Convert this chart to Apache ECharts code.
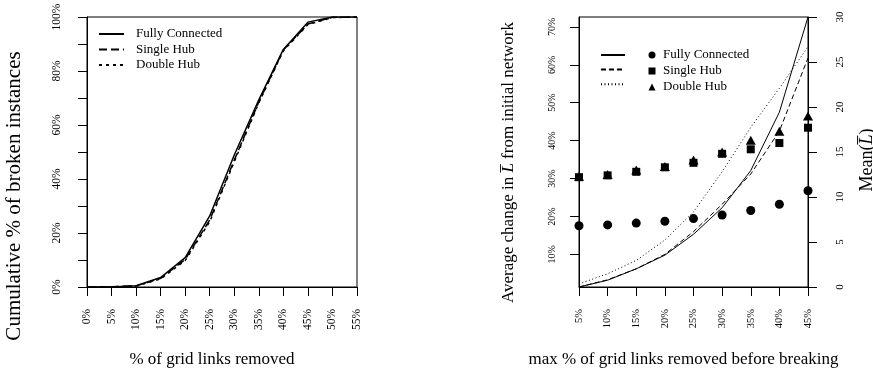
<!DOCTYPE html>
<html><head><meta charset="utf-8">
<script src="https://cdn.jsdelivr.net/npm/echarts@6/dist/echarts.min.js"></script>
<style>html,body{margin:0;padding:0;background:#fff}#c{width:873px;height:376px}</style>
</head><body><div id="c"></div>
<script>
// ---- Left chart data ----
const leftCategories = ['0%','5%','10%','15%','20%','25%','30%','35%','40%','45%','50%','55%'];
const leftFully  = [0, 0,   0.5, 3.5, 10.9, 26.3, 48.9, 69.3, 88.0, 98.1, 100, 100];
const leftSingle = [0, 0.1, 0.4, 3.2, 10.2, 24.8, 47.0, 68.5, 87.8, 97.4, 99.9, 100];
const leftDouble = [0, 0.1, 0.3, 3.0, 9.8,  24.2, 46.4, 68.2, 87.5, 97.2, 99.8, 100];
const leftYLabelStep = 20;

// ---- Right chart data ----
const rightCategories = ['5%','10%','15%','20%','25%','30%','35%','40%','45%'];
const changeFully  = [1.4, 3.2, 6.2, 9.8, 15.3, 22.3, 32.1, 47.5, 72.6];
const changeSingle = [1.4, 3.3, 6.2, 10.0, 16.0, 23.2, 31.2, 42.5, 61.8];
const changeDouble = [2.2, 4.9, 8.4, 13.8, 21.2, 31.8, 43.5, 53.8, 64.8];
const meanFully  = [6.8, 6.9, 7.1, 7.3, 7.6, 8.0, 8.5, 9.2, 10.7];
const meanSingle = [12.2, 12.4, 12.8, 13.3, 13.8, 14.8, 15.3, 16.0, 17.7];
const meanDouble = [12.3, 12.5, 13.0, 13.4, 14.1, 15.0, 16.3, 17.3, 19.0];
const changeTicks = [10, 20, 30, 40, 50, 60, 70];
const seriesLabels = ['Fully Connected', 'Single Hub', 'Double Hub'];

const FONT = 'Liberation Serif';
const K = '#000';
const NONE = 'rgba(0,0,0,0)';
const lineAxis = {lineStyle: {color: K, width: 1}};
const tick = {show: true, length: 9, lineStyle: {color: K, width: 1}};

const labelMap = {'FC pts': seriesLabels[0], 'SH pts': seriesLabels[1], 'DH pts': seriesLabels[2]};

const chart = echarts.init(document.getElementById('c'), null, {renderer: 'canvas'});
chart.setOption({
  animation: false,
  backgroundColor: '#fff',
  textStyle: {fontFamily: FONT, color: K},
  grid: [
    {left: 87, top: 17, width: 270, height: 270, show: true, borderColor: K, borderWidth: 1, backgroundColor: 'transparent', outerBoundsMode: 'none'},
    {left: 579, top: 17, width: 229, height: 270, show: true, borderColor: K, borderWidth: 1, backgroundColor: 'transparent', outerBoundsMode: 'none'}
  ],
  legend: [
    {orient: 'vertical', left: 98, top: 27, padding: 0, itemWidth: 25, itemHeight: 14, itemGap: 1.5,
     selectedMode: false, data: seriesLabels,
     lineStyle: {width: 2},
     itemStyle: {color: NONE, borderColor: NONE, borderWidth: 0},
     textStyle: {fontFamily: FONT, fontSize: 13, color: K, lineHeight: 14, padding: [0, 0, 0, 7]}},
    {orient: 'vertical', left: 600, top: 48, padding: 0, itemWidth: 24, itemHeight: 14, itemGap: 2,
     selectedMode: false, data: ['FC line', 'SH line', 'DH line'],
     formatter: () => '',
     itemStyle: {color: NONE, borderColor: NONE, borderWidth: 0},
     textStyle: {fontFamily: FONT, fontSize: 13, color: K}},
    {orient: 'vertical', left: 648.5, top: 48, padding: 0, itemWidth: 7, itemHeight: 7, itemGap: 2,
     selectedMode: false, data: ['FC pts', 'SH pts', 'DH pts'],
     formatter: (n) => labelMap[n],
     textStyle: {fontFamily: FONT, fontSize: 13, color: K, lineHeight: 14, padding: [0, 0, 0, 2.5]}}
  ],
  xAxis: [
    {gridIndex: 0, type: 'category', data: leftCategories, boundaryGap: false,
     axisLine: lineAxis, axisTick: Object.assign({interval: 0}, tick),
     axisLabel: {interval: 0, rotate: 90, margin: 22, fontFamily: FONT, fontSize: 11.5, color: K},
     splitLine: {show: false},
     name: '% of grid links removed', nameLocation: 'middle', nameGap: 64,
     nameTextStyle: {fontFamily: FONT, fontSize: 17, color: K, padding: [0, 20, 0, 0]}},
    {gridIndex: 1, type: 'category', data: rightCategories, boundaryGap: false,
     axisLine: lineAxis, axisTick: Object.assign({interval: 0}, tick),
     axisLabel: {interval: 0, rotate: 90, margin: 22, fontFamily: FONT, fontSize: 10.5, color: K},
     splitLine: {show: false},
     name: 'max % of grid links removed before breaking', nameLocation: 'middle', nameGap: 64,
     nameTextStyle: {fontFamily: FONT, fontSize: 17, color: K, padding: [0, 20, 0, 0]}}
  ],
  yAxis: [
    {gridIndex: 0, type: 'value', min: 0, max: 100, interval: 10,
     axisLine: Object.assign({show: true}, lineAxis), axisTick: tick,
     axisLabel: {rotate: 90, margin: 24, fontFamily: FONT, fontSize: 11.5, color: K,
                 formatter: v => (v % leftYLabelStep === 0 ? v + '%' : '')},
     splitLine: {show: false},
     name: 'Cumulative % of broken instances', nameLocation: 'middle', nameGap: 62, nameRotate: 90,
     nameTextStyle: {fontFamily: FONT, fontSize: 21, color: K, padding: [0, 88, 0, 0]}},
    {gridIndex: 1, type: 'value', position: 'left', min: 1.4, max: 72.6,
     axisLine: Object.assign({show: true}, lineAxis),
     axisTick: Object.assign({customValues: changeTicks}, tick),
     axisLabel: {customValues: changeTicks, rotate: 90, margin: 22, fontFamily: FONT, fontSize: 10, color: K,
                 formatter: v => v + '%'},
     splitLine: {show: false},
     name: 'Average change in {i|L\u0305} from initial network', nameLocation: 'middle', nameGap: 62, nameRotate: 90,
     nameTextStyle: {fontFamily: FONT, fontSize: 17, color: K, padding: [0, 21, 0, 0],
                     rich: {i: {fontFamily: FONT, fontSize: 17, fontStyle: 'italic', color: K}}}},
    {gridIndex: 1, type: 'value', position: 'right', min: 0, max: 30, interval: 5,
     axisLine: Object.assign({show: true}, lineAxis), axisTick: tick,
     axisLabel: {rotate: 90, margin: 27, fontFamily: FONT, fontSize: 11, color: K},
     splitLine: {show: false},
     name: 'Mean({i|L\u0305})', nameLocation: 'middle', nameGap: 50, nameRotate: 90,
     nameTextStyle: {fontFamily: FONT, fontSize: 18, color: K, padding: [0, 16, 0, 0],
                     rich: {i: {fontFamily: FONT, fontSize: 18, fontStyle: 'italic', color: K}}}}
  ],
  series: [
    {name: seriesLabels[0], type: 'line', xAxisIndex: 0, yAxisIndex: 0, data: leftFully, symbol: 'none',
     itemStyle: {color: K}, lineStyle: {color: K, width: 1.5, type: 'solid'}},
    {name: seriesLabels[1], type: 'line', xAxisIndex: 0, yAxisIndex: 0, data: leftSingle, symbol: 'none',
     itemStyle: {color: K}, lineStyle: {color: K, width: 1.5, type: [8, 4]}},
    {name: seriesLabels[2], type: 'line', xAxisIndex: 0, yAxisIndex: 0, data: leftDouble, symbol: 'none',
     itemStyle: {color: K}, lineStyle: {color: K, width: 1.5, type: [3, 4]}},

    {name: 'FC line', type: 'line', xAxisIndex: 1, yAxisIndex: 1, data: changeFully, symbol: 'none',
     itemStyle: {color: K}, lineStyle: {color: K, width: 1, type: 'solid'}},
    {name: 'SH line', type: 'line', xAxisIndex: 1, yAxisIndex: 1, data: changeSingle, symbol: 'none',
     itemStyle: {color: K}, lineStyle: {color: K, width: 1, type: [5, 3]}},
    {name: 'DH line', type: 'line', xAxisIndex: 1, yAxisIndex: 1, data: changeDouble, symbol: 'none',
     itemStyle: {color: K}, lineStyle: {color: K, width: 1, type: [1, 2.5]}},

    {name: 'DH pts', type: 'scatter', xAxisIndex: 1, yAxisIndex: 2, data: meanDouble, symbol: 'triangle',
     symbolSize: [10, 9], itemStyle: {color: K, opacity: 1}},
    {name: 'SH pts', type: 'scatter', xAxisIndex: 1, yAxisIndex: 2, data: meanSingle, symbol: 'rect',
     symbolSize: 8, itemStyle: {color: K, opacity: 1}},
    {name: 'FC pts', type: 'scatter', xAxisIndex: 1, yAxisIndex: 2, data: meanFully, symbol: 'circle',
     symbolSize: 9, itemStyle: {color: K, opacity: 1}}
  ]
});
</script></body></html>
